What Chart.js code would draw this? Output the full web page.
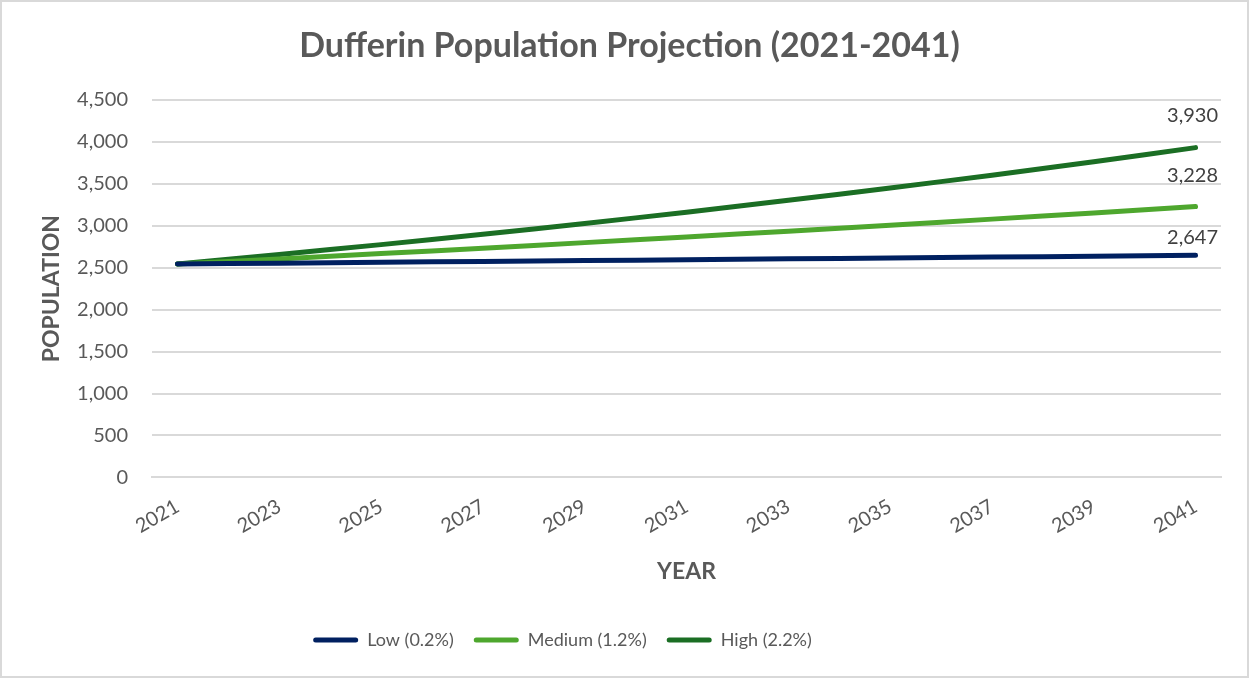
<!DOCTYPE html>
<html>
<head>
<meta charset="utf-8">
<script src="https://cdn.jsdelivr.net/npm/chart.js@4/dist/chart.umd.min.js"></script>
<style>
  html, body { margin: 0; padding: 0; background: #fff; }
  #wrap {
    width: 1249px; height: 678px; box-sizing: border-box;
    border: 2px solid #d9d9d9; position: relative;
  }
</style>
</head>
<body>
<div id="wrap"><canvas id="chart"></canvas></div>
<script>
// years on the category axis
const years = ['2021', '2022', '2023', '2024', '2025', '2026', '2027', '2028', '2029', '2030',
  '2031', '2032', '2033', '2034', '2035', '2036', '2037', '2038', '2039', '2040', '2041'];

// population values
const lowValues = [2543, 2548, 2553, 2558, 2563, 2569, 2574, 2579, 2584, 2589, 2594,
  2600, 2605, 2610, 2615, 2620, 2626, 2631, 2636, 2641, 2647];
const mediumValues = [2543, 2574, 2604, 2636, 2667, 2699, 2732, 2765, 2798, 2831, 2865,
  2900, 2934, 2970, 3005, 3041, 3078, 3115, 3152, 3190, 3228];
const highValues = [2543, 2599, 2656, 2715, 2774, 2835, 2898, 2961, 3027, 3093, 3161,
  3231, 3302, 3375, 3449, 3525, 3602, 3681, 3762, 3845, 3930];

const seriesNames = ['Low (0.2%)', 'Medium (1.2%)', 'High (2.2%)'];
const yMax = 4500;
const yStep = 500;

const grey = '#595959';
const font = 'Lato';

// value labels at the last point of each line
const endLabels = {
  id: 'endLabels',
  afterDatasetsDraw(chart) {
    const ctx = chart.ctx;
    const lift = [18, 31, 32];
    ctx.save();
    ctx.font = '20px ' + font;
    ctx.fillStyle = '#404040';
    ctx.textAlign = 'center';
    ctx.textBaseline = 'middle';
    chart.data.datasets.forEach((ds, i) => {
      const meta = chart.getDatasetMeta(i);
      const pt = meta.data[meta.data.length - 1];
      const v = ds.data[ds.data.length - 1];
      ctx.fillText(v.toLocaleString('en-US'), pt.x - 3, pt.y - lift[i]);
    });
    ctx.restore();
  }
};

// the legend sits a little left of centre in the original
const legendShift = {
  id: 'legendShift',
  afterLayout(chart) {
    chart.legend.left -= 67;
    chart.legend.right -= 67;
  }
};

new Chart(document.getElementById('chart'), {
  type: 'line',
  data: {
    labels: years,
    datasets: [
      { label: seriesNames[0], data: lowValues, borderColor: '#002060', backgroundColor: '#002060' },
      { label: seriesNames[1], data: mediumValues, borderColor: '#4ea72e', backgroundColor: '#4ea72e' },
      { label: seriesNames[2], data: highValues, borderColor: '#1b6e24', backgroundColor: '#1b6e24' }
    ]
  },
  options: {
    responsive: true,
    maintainAspectRatio: false,
    animation: false,
    layout: { padding: { left: 36, right: 26, top: 24, bottom: 17 } },
    elements: {
      line: { borderWidth: 5, tension: 0, borderCapStyle: 'round', borderJoinStyle: 'round' },
      point: { radius: 0, hoverRadius: 0 }
    },
    plugins: {
      title: {
        display: true,
        text: 'Dufferin Population Projection (2021-2041)',
        color: grey,
        font: { family: font, size: 34, weight: 'bold' },
        padding: { top: 0, bottom: 33 }
      },
      legend: {
        position: 'bottom',
        labels: {
          color: grey,
          font: { family: font, size: 18 },
          boxWidth: 45,
          boxHeight: 5,
          padding: 20,
          useBorderRadius: true,
          borderRadius: 2.5,
          generateLabels(chart) {
            return chart.data.datasets.map((ds, i) => ({
              text: ds.label,
              fillStyle: ds.borderColor,
              strokeStyle: ds.borderColor,
              lineWidth: 0,
              borderRadius: 2.5,
              fontColor: grey,
              hidden: false,
              datasetIndex: i
            }));
          }
        }
      },
      tooltip: { enabled: false }
    },
    scales: {
      x: {
        offset: true,
        grid: { display: false, drawTicks: false },
        border: { display: true, color: '#d9d9d9', width: 2 },
        afterFit(scale) {
          scale.paddingLeft = 0;
          scale.paddingRight = 0;
        },
        ticks: {
          autoSkip: false,
          maxRotation: 30,
          minRotation: 30,
          padding: 17,
          color: grey,
          font: { family: font, size: 20 },
          callback(value, index) {
            return index % 2 === 0 ? years[index] : '';
          }
        },
        title: {
          display: true,
          text: 'YEAR',
          color: grey,
          font: { family: font, size: 23, weight: 'bold' },
          padding: { top: 2, bottom: 26 }
        }
      },
      y: {
        min: 0,
        max: yMax,
        grid: { color: '#d9d9d9', lineWidth: 2, drawTicks: false },
        border: { display: false },
        afterFit(scale) {
          scale.width = 114;
        },
        ticks: {
          stepSize: yStep,
          padding: 24,
          color: grey,
          font: { family: font, size: 20 }
        },
        title: {
          display: true,
          text: 'POPULATION',
          color: grey,
          font: { family: font, size: 23, weight: 'bold' },
          padding: { top: 0, bottom: 11 }
        }
      }
    }
  },
  plugins: [endLabels, legendShift]
});
</script>
</body>
</html>
